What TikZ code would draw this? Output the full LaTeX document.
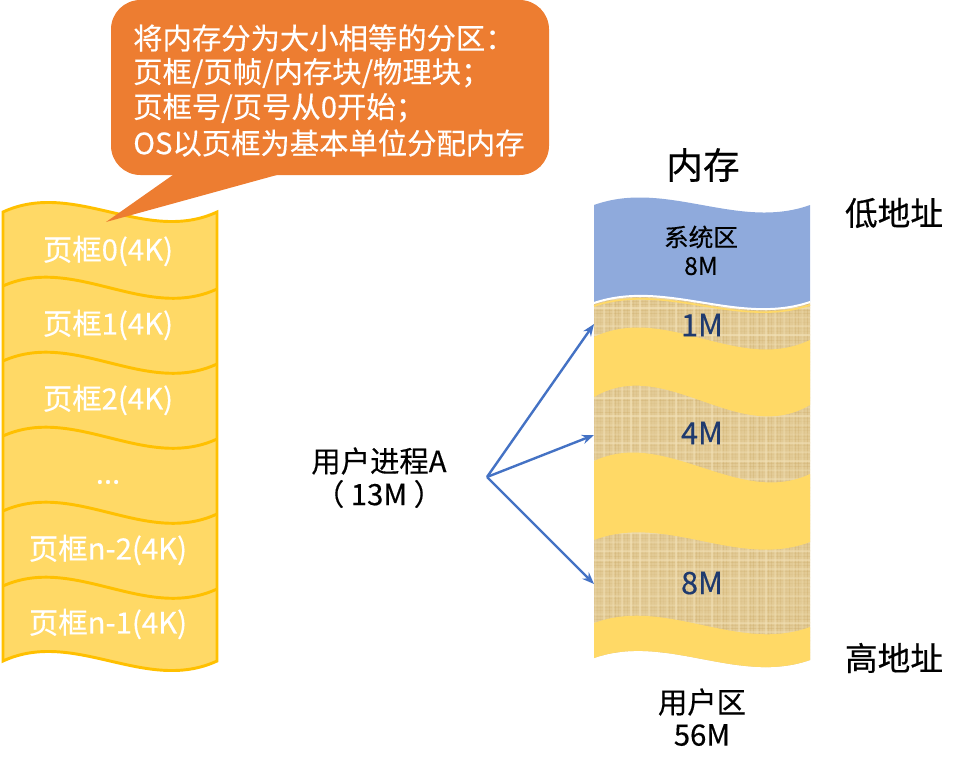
\documentclass[tikz,border=0pt]{standalone}
\usepackage{fontspec}
\setmainfont{Noto Sans CJK SC}[FakeBold=0.35]
\usetikzlibrary{arrows.meta}
\definecolor{orng}{HTML}{ED7D31}
\definecolor{ylw}{HTML}{FFD966}
\definecolor{ylwline}{HTML}{FFC000}
\definecolor{blu}{HTML}{8FAADC}
\definecolor{arr}{HTML}{4472C4}
\definecolor{navy}{HTML}{1F3A6E}
\definecolor{burlap}{HTML}{E2CA95}
\definecolor{burdark}{HTML}{C9A762}
\definecolor{burlight}{HTML}{F3E2B8}
\tikzset{
  frametext/.style={text=white, font=\fontsize{22}{26}\selectfont, inner sep=0pt},
  calltext/.style={text=white, font=\fontsize{22}{26}\selectfont, inner sep=0pt, anchor=west},
  memtext/.style={text=navy, font=\fontsize{23}{26}\selectfont, inner sep=0pt},
  plaintext/.style={text=black, font=\fontsize{22}{26}\selectfont, inner sep=0pt},
  divider/.style={draw=ylwline, line width=2.2pt},
  maparrow/.style={draw=arr, line width=1.8pt, -{Stealth[length=9pt,width=7pt]}},
}
\begin{document}
\begin{tikzpicture}[x=0.75pt,y=-0.75pt]
\useasboundingbox (0,0) rectangle (970,771);

% ---------- left stack of page frames ----------
\path[fill=ylw, draw=ylwline, line width=2.2pt]
  (3,212) .. controls (74.3,179) and (145.7,245) .. (217,212)
  -- (217,661) .. controls (145.7,694) and (74.3,628) .. (3,661) -- cycle;
\foreach \y in {286,361,436,511,586}{
  \draw[divider] (3,\y) .. controls (74.3,\y-32) and (145.7,\y+36) .. (217,\y+3);
}
\node[frametext] (f0) at (108,251) {页框0(4K)};
\node[frametext] (f1) at (108,325) {页框1(4K)};
\node[frametext] (f2) at (108,400) {页框2(4K)};
\node[frametext] (fd) at (108,482) {...};
\node[frametext] (fn2) at (108,550) {页框n-2(4K)};
\node[frametext] (fn1) at (108,624) {页框n-1(4K)};

% ---------- callout ----------
\fill[orng, rounded corners=22pt] (111,0) rectangle (549,175);
\fill[orng] (180,170) -- (295,170) -- (106,222) -- cycle;
\node[calltext] (c1) at (133,38) {将内存分为大小相等的分区：};
\node[calltext] (c2) at (133,73) {页框/页帧/内存块/物理块；};
\node[calltext] (c3) at (133,108) {页框号/页号从0开始；};
\node[calltext] (c4) at (133,143) {OS以页框为基本单位分配内存};

% ---------- memory column ----------
% system area
\fill[blu] (594,205) .. controls (666,179) and (738,231) .. (810,205)
  -- (810,302) .. controls (738,326.3) and (666,278.7) .. (594,303) -- cycle;
% user area texture
\begin{scope}
  \clip (594,303) .. controls (666,278.7) and (738,326.3) .. (810,302)
    -- (810,660) .. controls (738,685.3) and (666,632.7) .. (594,658) -- cycle;
  \fill[burlap] (590,270) rectangle (815,700);
  \pgfmathsetseed{7}
  \foreach \i in {0,...,72}{
    \pgfmathsetmacro\op{0.05+0.25*rnd}
    \draw[burdark, opacity=\op, line width=0.6pt] (594+3*\i,280) -- (594+3*\i,690);
  }
  \foreach \j in {0,...,136}{
    \pgfmathsetmacro\op{0.05+0.25*rnd}
    \draw[burdark, opacity=\op, line width=0.5pt] (590,280+3*\j) -- (815,280+3*\j);
  }
  \foreach \j in {0,...,45}{
    \pgfmathsetmacro\op{0.2+0.5*rnd}
    \draw[burlight, opacity=\op, line width=0.9pt] (590,281+9*\j) -- (815,281+9*\j);
  }
  \foreach \i in {0,...,24}{
    \pgfmathsetmacro\op{0.2+0.5*rnd}
    \draw[burlight, opacity=\op, line width=0.9pt] (595+9*\i,280) -- (595+9*\i,690);
  }
\end{scope}
% yellow bands
\fill[ylw] (594,337) .. controls (666,303) and (738,374) .. (810,340)
  -- (810,405) .. controls (738,447.3) and (666,354.7) .. (594,397) -- cycle;
\fill[ylw] (594,461) .. controls (666,427.3) and (738,507.7) .. (810,474)
  -- (810,542) .. controls (738,569.3) and (666,512.7) .. (594,540) -- cycle;
\fill[ylw] (594,623) .. controls (666,596.3) and (738,653.7) .. (810,627)
  -- (810,660) .. controls (738,685.3) and (666,632.7) .. (594,658) -- cycle;
% separation line between system and user area
\draw[ylw, line width=1.2pt] (594,306) .. controls (666,281.7) and (738,329.3) .. (810,305);
\draw[white, line width=1.5pt] (594,303) .. controls (666,278.7) and (738,326.3) .. (810,302);

\node[text=black, font=\fontsize{18.5}{22}\selectfont, inner sep=0pt] (sys) at (701,237) {系统区};
\node[text=black, font=\fontsize{18.5}{22}\selectfont, inner sep=0pt] (sys8) at (701,266) {8M};
\node[memtext] (m1) at (702,325) {1M};
\node[memtext] (m4) at (702,433) {4M};
\node[memtext] (m8) at (702,583) {8M};

\node[text=black, font=\fontsize{27.5}{30}\selectfont, inner sep=0pt] (mem) at (703,165) {内存};
\node[text=black, font=\fontsize{24.5}{28}\selectfont, inner sep=0pt] (low) at (894,213) {低地址};
\node[text=black, font=\fontsize{24.5}{28}\selectfont, inner sep=0pt] (high) at (894,658) {高地址};
\node[plaintext] (ua) at (702,702) {用户区};
\node[plaintext] (ua56) at (702,735) {56M};

% ---------- process A and arrows ----------
\node[plaintext] (pa) at (379,461) {用户进程A};
\node[plaintext] (pa13) at (379,494) {（ 13M ）};
\coordinate (src) at (487,477);
\coordinate (t1) at (594,324);
\coordinate (t2) at (594,435);
\coordinate (t3) at (594,584);
\draw[maparrow] (src) -- (t1);
\draw[maparrow] (src) -- (t2);
\draw[maparrow] (src) -- (t3);
\end{tikzpicture}
\end{document}
